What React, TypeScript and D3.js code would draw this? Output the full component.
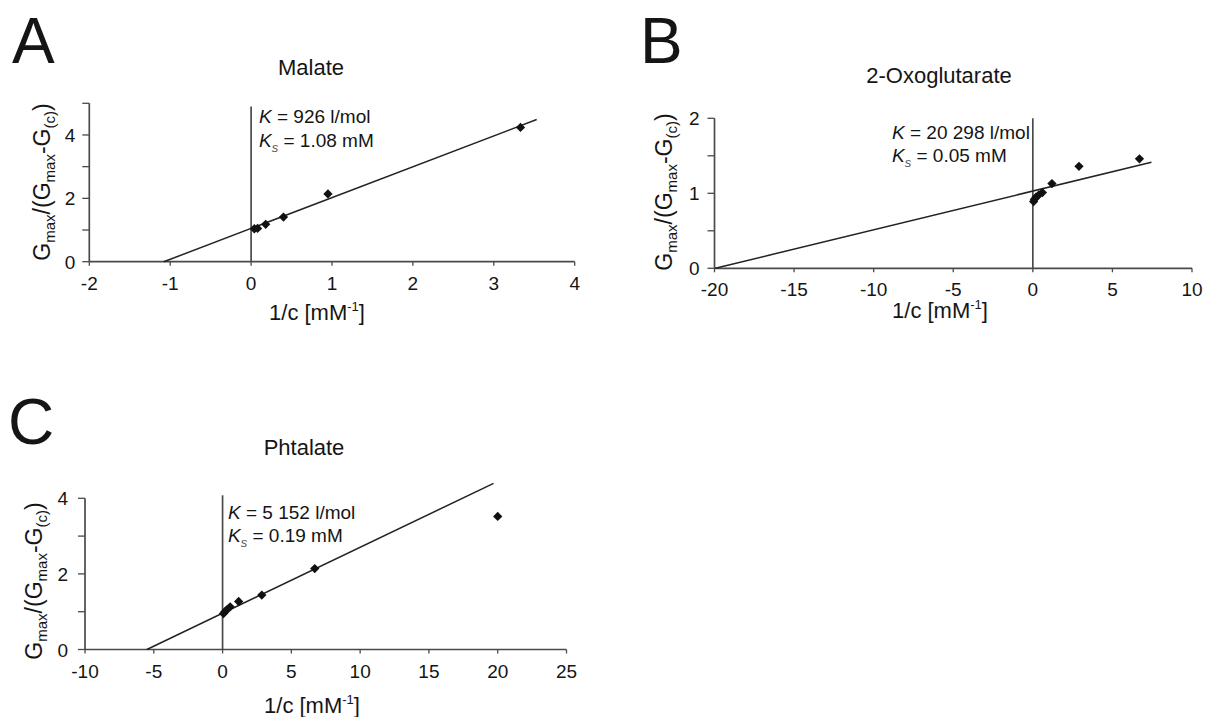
import React from 'react';
import * as d3 from 'd3';

// Malate (A)
const malateX = [0.04, 0.08, 0.18, 0.4, 0.95, 3.33];
const malateY = [1.04, 1.05, 1.18, 1.41, 2.14, 4.24];
const malateFit = [1.05, 0.974]; // intercept, slope
const malateFitRange = [-1.08, 3.53];

// 2-Oxoglutarate (B)
const oxoX = [0.05, 0.1, 0.2, 0.38, 0.6, 1.2, 2.9, 6.7];
const oxoY = [0.89, 0.92, 0.95, 0.98, 1.01, 1.13, 1.36, 1.46];
const oxoFit = [1.03, 0.0516];
const oxoFitRange = [-19.95, 7.45];

// Phtalate (C)
const phtX = [0.07, 0.17, 0.31, 0.55, 1.17, 2.85, 6.7, 20];
const phtY = [0.95, 1.0, 1.05, 1.13, 1.27, 1.44, 2.14, 3.52];
const phtFit = [0.96, 0.1744];
const phtFitRange = [-5.5, 19.7];

const letters = ['A', 'B', 'C'];
const titles = ['Malate', '2-Oxoglutarate', 'Phtalate'];
const kValues = ['926', '20 298', '5 152'];
const ksValues = ['1.08', '0.05', '0.19'];

const xTicksA = [-2, -1, 0, 1, 2, 3, 4];
const yTicksA = [0, 1, 2, 3, 4, 5];
const yLabelsA = [0, 2, 4];
const xTicksB = [-20, -15, -10, -5, 0, 5, 10];
const yTicksB = [0, 0.5, 1, 1.5, 2];
const yLabelsB = [0, 1, 2];
const xTicksC = [-10, -5, 0, 5, 10, 15, 20, 25];
const yTicksC = [0, 1, 2, 3, 4];
const yLabelsC = [0, 2, 4];

const FONT = '"Liberation Sans", Arial, Helvetica, sans-serif';
const AXIS = '#4a4a4a';
const INK = '#151515';

const diamond = d3.symbol((d3 as any).symbolDiamond2 ?? d3.symbolSquare, 55)();

function Panel(props: any) {
  const { xs, ys, fit, fitRange, xTicks, yTicks, yLabels, letter, title, k, ks, lay } = props;
  const x = d3.scaleLinear().domain([xTicks[0], xTicks[xTicks.length - 1]]).range(lay.xr);
  const y = d3.scaleLinear().domain([yTicks[0], yTicks[yTicks.length - 1]]).range(lay.yr);
  const line = d3.line<number>().x((v) => x(v)).y((v) => y(fit[0] + fit[1] * v));
  const y0 = y(0);
  return (
    <g fontFamily={FONT} fill={INK}>
      <text x={lay.letter[0]} y={lay.letter[1]} fontSize={64}>{letter}</text>
      <text x={lay.title[0]} y={lay.title[1]} fontSize={22} textAnchor="middle">{title}</text>

      {/* axes */}
      <line x1={x.range()[0]} x2={x.range()[1]} y1={y0} y2={y0} stroke={AXIS} strokeWidth={1.7} />
      <line x1={x.range()[0]} x2={x.range()[0]} y1={y0} y2={y.range()[1]} stroke={AXIS} strokeWidth={1.7} />
      {xTicks.map((t: number) => (
        <g key={'x' + t}>
          <line x1={x(t)} x2={x(t)} y1={y0} y2={y0 + 4} stroke={AXIS} strokeWidth={1.3} />
          <text x={x(t)} y={y0 + 28} fontSize={19} textAnchor="middle">{t}</text>
        </g>
      ))}
      {yTicks.map((t: number) => (
        <line key={'y' + t} x1={x.range()[0] - 7} x2={x.range()[0]} y1={y(t)} y2={y(t)} stroke={AXIS} strokeWidth={1.3} />
      ))}
      {yLabels.map((t: number) => (
        <text key={'yl' + t} x={x.range()[0] - lay.yLabGap} y={y(t) + 7} fontSize={19} textAnchor="end">{t}</text>
      ))}

      {/* zero line */}
      <line x1={x(0)} x2={x(0)} y1={y0} y2={y(lay.zeroTop)} stroke={AXIS} strokeWidth={1.7} />

      {/* fit */}
      <path d={line(fitRange) || ''} fill="none" stroke="#222" strokeWidth={1.5} />

      {xs.map((v: number, i: number) => (
        <path key={'p' + i} d={diamond || ''} transform={`translate(${x(v)},${y(ys[i])})`} fill="#111" />
      ))}

      {/* annotations */}
      <text x={lay.note[0]} y={lay.note[1]} fontSize={19}>
        <tspan fontStyle="italic">K</tspan>
        <tspan>{' = ' + k + ' l/mol'}</tspan>
      </text>
      <text x={lay.note[0]} y={lay.note[1] + 23.5} fontSize={19}>
        <tspan fontStyle="italic">K</tspan>
        <tspan fontStyle="italic" fontSize={13} dy={5} fill="#555">s</tspan>
        <tspan dy={-5}>{' = ' + ks + ' mM'}</tspan>
      </text>

      {/* axis titles */}
      <text x={lay.xTitle[0]} y={lay.xTitle[1]} fontSize={22} textAnchor="middle">
        {'1/c [mM'}
        <tspan fontSize={13} dy={-9}>-1</tspan>
        <tspan dy={9}>]</tspan>
      </text>
      <text transform={`translate(${lay.yTitle[0]},${lay.yTitle[1]}) rotate(-90)`} fontSize={23} textAnchor="middle">
        {'G'}
        <tspan fontSize={15} dy={5}>max</tspan>
        <tspan dy={-5}>/(G</tspan>
        <tspan fontSize={15} dy={5}>max</tspan>
        <tspan dy={-5}>-G</tspan>
        <tspan fontSize={15} dy={5}>(c)</tspan>
        <tspan dy={-5}>)</tspan>
      </text>
    </g>
  );
}

const layA = {
  xr: [89.3, 574.7], yr: [261.7, 103.3], zeroTop: 4.9, yLabGap: 14,
  letter: [12, 63], title: [311, 75], note: [259, 123], xTitle: [317, 320], yTitle: [50, 182],
};
const layB = {
  xr: [714.5, 1192], yr: [268.3, 118.3], zeroTop: 2, yLabGap: 15,
  letter: [640, 63], title: [939, 83], note: [892, 138.5], xTitle: [940, 318], yTitle: [672, 192],
};
const layC = {
  xr: [85, 566.5], yr: [649.5, 498.3], zeroTop: 4.08, yLabGap: 17,
  letter: [8, 444], title: [304, 455], note: [228, 518.5], xTitle: [312, 713], yTitle: [42, 581],
};

export default function App() {
  return (
    <svg width={1205} height={717} style={{ position: 'absolute', left: 0, top: 0, background: '#fff' }}>
      <rect width={1205} height={717} fill="#fff" />
      <Panel xs={malateX} ys={malateY} fit={malateFit} fitRange={malateFitRange}
        xTicks={xTicksA} yTicks={yTicksA} yLabels={yLabelsA}
        letter={letters[0]} title={titles[0]} k={kValues[0]} ks={ksValues[0]} lay={layA} />
      <Panel xs={oxoX} ys={oxoY} fit={oxoFit} fitRange={oxoFitRange}
        xTicks={xTicksB} yTicks={yTicksB} yLabels={yLabelsB}
        letter={letters[1]} title={titles[1]} k={kValues[1]} ks={ksValues[1]} lay={layB} />
      <Panel xs={phtX} ys={phtY} fit={phtFit} fitRange={phtFitRange}
        xTicks={xTicksC} yTicks={yTicksC} yLabels={yLabelsC}
        letter={letters[2]} title={titles[2]} k={kValues[2]} ks={ksValues[2]} lay={layC} />
    </svg>
  );
}
